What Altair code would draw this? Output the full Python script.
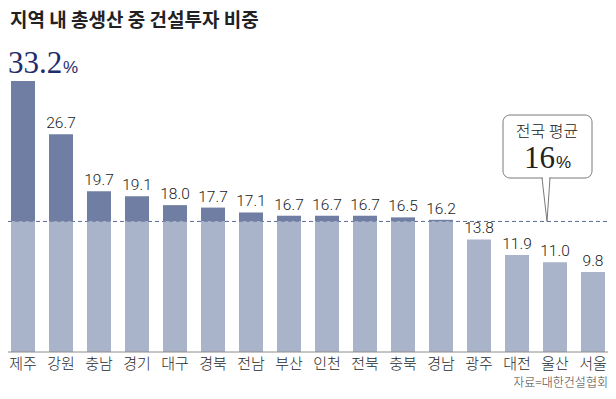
import altair as alt
import pandas as pd

regions = ["제주", "강원", "충남", "경기", "대구", "경북", "전남", "부산",
           "인천", "전북", "충북", "경남", "광주", "대전", "울산", "서울"]
shares = [33.2, 26.7, 19.7, 19.1, 18.0, 17.7, 17.1, 16.7,
          16.7, 16.7, 16.5, 16.2, 13.8, 11.9, 11.0, 9.8]
national_avg = 16
title_text = "지역 내 총생산 중 건설투자 비중"
source_text = "자료=대한건설협회"
callout_label = "전국 평균"
callout_value = "16"
unit = "%"

df = pd.DataFrame({"region": regions, "share": shares})
df["low"] = df["share"].clip(upper=national_avg)
df["zero"] = 0.0
df["label"] = df["share"].map(lambda v: f"{v:.1f}")
first = regions[0]

W, H = 600, 344
KR = "Noto Sans CJK KR"
NUM = "Roboto, sans-serif"
SERIF = "Liberation Serif, DejaVu Serif, serif"
DARK = "#6f7ea2"
LIGHT = "#a9b3c9"

xenc = alt.X("region:N", sort=regions, axis=None,
             scale=alt.Scale(paddingInner=0.368, paddingOuter=0.079))
yscale = alt.Scale(domain=[0, 42.16], nice=False, zero=True)

base = alt.Chart(df)
avg_df = pd.DataFrame({"avg": [national_avg], "zero": [0.0]})

avg_rule = alt.Chart(avg_df).mark_rule(color="#5b6b95", strokeDash=[4, 3], strokeWidth=1).encode(
    y=alt.Y("avg:Q", scale=yscale, axis=None), x=alt.value(0), x2=alt.value(W))

base_rule = alt.Chart(avg_df).mark_rule(color="#8c8c8c", strokeWidth=1).encode(
    y=alt.Y("zero:Q", scale=yscale, axis=None), x=alt.value(0), x2=alt.value(W))

light = base.mark_bar(color=LIGHT).encode(
    x=xenc, y=alt.Y("low:Q", scale=yscale, axis=None), y2="zero:Q")

dark = base.mark_bar(color=DARK).encode(
    x=xenc, y=alt.Y("share:Q", scale=yscale, axis=None), y2="low:Q")

labels = base.transform_filter(alt.datum.region != first).mark_text(
    font=NUM, fontSize=15.5, fontWeight=300, color="#1a1a1a", baseline="alphabetic", dy=-6).encode(
    x=xenc, y=alt.Y("share:Q", scale=yscale, axis=None), text="label:N")

big = base.transform_filter(alt.datum.region == first).mark_text(
    font=SERIF, fontSize=31, color="#1f2c6c", baseline="alphabetic", align="left",
    dx=-15, dy=-8).encode(x=xenc, y=alt.Y("share:Q", scale=yscale, axis=None), text="label:N")

big_pct = base.transform_filter(alt.datum.region == first).mark_text(
    font="Liberation Sans, sans-serif", fontSize=17, color="#1f2c6c", baseline="alphabetic",
    align="left", dx=40, dy=-8, text=unit).encode(
    x=xenc, y=alt.Y("share:Q", scale=yscale, axis=None))

xlabels = base.mark_text(font=KR, fontSize=15, fontWeight=300, color="#2a2a2a", baseline="middle", dy=12).encode(
    x=xenc, y=alt.Y("zero:Q", scale=yscale, axis=None), text="region:N")

# callout box
box = alt.Chart(avg_df).mark_rect(fill="white", stroke="#7a7a7a", strokeWidth=1, cornerRadius=7).encode(
    x=alt.value(495), x2=alt.value(584), y=alt.value(107), y2=alt.value(170))
gap = alt.Chart(avg_df).mark_rule(color="white", strokeWidth=2).encode(
    x=alt.value(535), x2=alt.value(541), y=alt.value(170))
ptr1 = alt.Chart(avg_df).mark_rule(color="#7a7a7a", strokeWidth=1).encode(
    x=alt.value(539), x2=alt.value(534), y=alt.Y("avg:Q", scale=yscale, axis=None), y2=alt.value(170))
ptr2 = alt.Chart(avg_df).mark_rule(color="#7a7a7a", strokeWidth=1).encode(
    x=alt.value(539), x2=alt.value(542), y=alt.Y("avg:Q", scale=yscale, axis=None), y2=alt.value(170))
c_label = alt.Chart(avg_df).mark_text(font=KR, fontSize=16, fontWeight=300, color="#222222", baseline="middle",
                                      text=callout_label).encode(
    x=alt.value(539), y=alt.value(124))
c_val = alt.Chart(avg_df).mark_text(font=SERIF, fontSize=31, color="#222222", baseline="alphabetic",
                                    align="right", text=callout_value).encode(
    x=alt.value(547), y=alt.value(160))
c_pct = alt.Chart(avg_df).mark_text(font="Liberation Sans, sans-serif", fontSize=17, color="#222222",
                                    baseline="alphabetic", align="left", text=unit).encode(
    x=alt.value(548), y=alt.value(160))

title = alt.Chart(avg_df).mark_text(font=KR, fontSize=19, fontWeight="bold", color="#222222",
                                    baseline="top", align="left", text=title_text).encode(
    x=alt.value(2), y=alt.value(4))
source = alt.Chart(avg_df).mark_text(font=KR, fontSize=12, fontWeight=300, color="#444444",
                                     baseline="middle", align="right", text=source_text).encode(
    x=alt.value(W), y=alt.value(375))

chart = alt.layer(
    avg_rule, light, dark, base_rule, labels, big, big_pct, xlabels,
    box, gap, ptr1, ptr2, c_label, c_val, c_pct, title, source
).properties(
    width=W, height=H,
    autosize=alt.AutoSizeParams(type="none"),
    padding={"left": 0, "top": 0, "right": 0, "bottom": 39},
).configure_view(stroke=None)

chart.save("out.html", embed_options={"renderer": "svg", "actions": False})
